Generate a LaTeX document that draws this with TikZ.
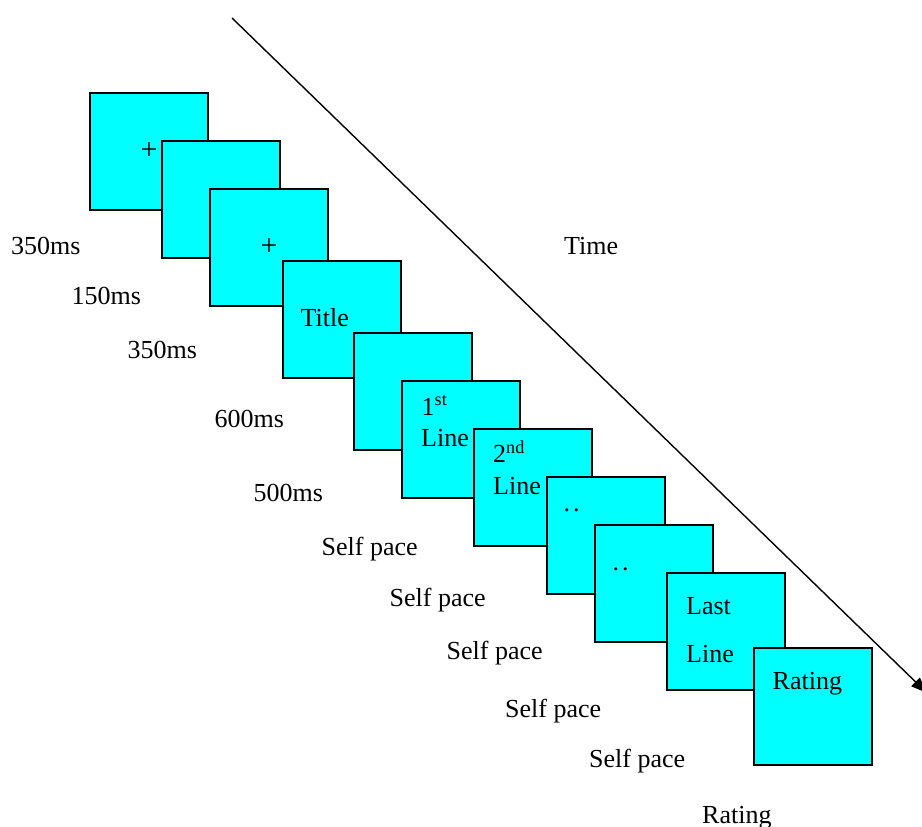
\documentclass[tikz,border=0pt]{standalone}
\usepackage{fontspec}
\setmainfont{Liberation Serif}
\usetikzlibrary{arrows.meta}
\definecolor{screencyan}{RGB}{0,255,255}
\begin{document}
\begin{tikzpicture}[x=1pt,y=-1pt,
  frame/.style={draw=black,fill=screencyan,line width=1.8pt,minimum width=118pt,minimum height=117pt,inner sep=0pt,anchor=north west},
  lbl/.style={anchor=base west,inner sep=0pt,font=\fontsize{26}{31}\selectfont},
  cross/.style={inner sep=0pt,font=\fontsize{30}{34}\selectfont},
  timeline/.style={line width=1.4pt,-{Triangle[length=16pt,width=12pt]}}]
\useasboundingbox (0,0) rectangle (922,827);
% time arrow
\coordinate (tstart) at (232,18);
\coordinate (tend) at (927,693);
\draw[timeline] (tstart) -- (tend);
% screens
\node[frame] (b1) at (89,92) {};
\node[frame] (b2) at (161,140) {};
\node[frame] (b3) at (209,188) {};
\node[frame] (b4) at (282,260) {};
\node[frame] (b5) at (353,332) {};
\node[frame] (b6) at (401,380) {};
\node[frame] (b7) at (473,428) {};
\node[frame] (b8) at (546,476) {};
\node[frame] (b9) at (594,524) {};
\node[frame] (b10) at (666,572) {};
\node[frame] (b11) at (753,647) {};
% screen contents
\node[cross] (p1) at (149,151) {+};
\node[cross] (p3) at (269,247) {+};
\node[lbl] (ttl) at (300.5,326) {Title};
\node[lbl] (l1a) at (421.5,415) {1\textsuperscript{st}};
\node[lbl] (l1b) at (421,446.5) {Line};
\node[lbl] (l2a) at (493,462.5) {2\textsuperscript{nd}};
\node[lbl] (l2b) at (493,494) {Line};
\node[lbl] (d1) at (563.5,511.5) {.\kern3pt.};
\node[lbl] (d2) at (612.5,570) {.\kern3pt.};
\node[lbl] (lla) at (686,614) {Last};
\node[lbl] (llb) at (686,662) {Line};
\node[lbl] (rt) at (772.5,689) {Rating};
% durations
\node[lbl] (t1) at (11,254) {350ms};
\node[lbl] (t2) at (71.5,304) {150ms};
\node[lbl] (t3) at (127.5,358.5) {350ms};
\node[lbl] (t4) at (214.5,427) {600ms};
\node[lbl] (t5) at (253.5,501) {500ms};
\node[lbl] (s1) at (321.5,555) {Self pace};
\node[lbl] (s2) at (389.5,606.5) {Self pace};
\node[lbl] (s3) at (446.5,659) {Self pace};
\node[lbl] (s4) at (505,717.5) {Self pace};
\node[lbl] (s5) at (589,767.5) {Self pace};
\node[lbl] (r) at (702,823) {Rating};
\node[lbl] (time) at (564,254) {Time};
\end{tikzpicture}
\end{document}
